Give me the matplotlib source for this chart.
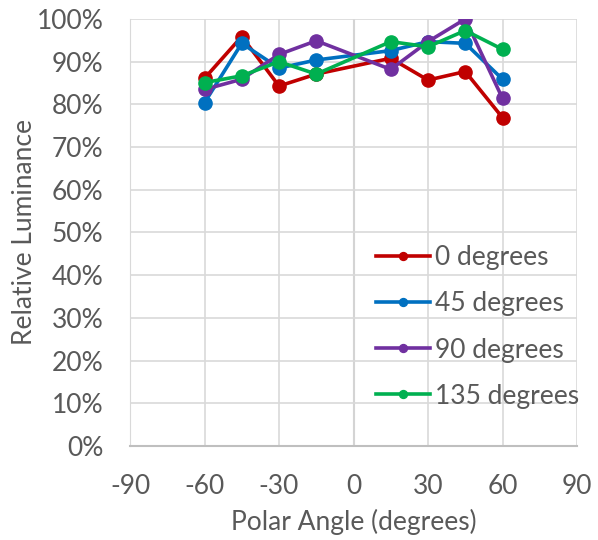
import matplotlib.pyplot as plt
from matplotlib.ticker import PercentFormatter

plt.rcParams['font.family'] = ['Lato', 'DejaVu Sans']
plt.rcParams['axes.unicode_minus'] = False

# polar angle in degrees (no measurement at 0)
angles = [-60, -45, -30, -15, 15, 30, 45, 60]

# relative luminance (%) per polarisation angle
lum_0 = [86.1, 95.9, 84.3, 87.1, 90.8, 85.7, 87.7, 76.9]
lum_45 = [80.4, 94.3, 88.5, 90.4, 92.6, 94.7, 94.3, 85.9]
lum_90 = [83.5, 85.9, 91.7, 94.9, 88.2, 94.7, 100.0, 81.4]
lum_135 = [85.1, 86.7, 90.0, 87.1, 94.7, 93.5, 97.3, 92.9]

series = [
    ("0 degrees", lum_0, "#C00000"),
    ("45 degrees", lum_45, "#0070C0"),
    ("90 degrees", lum_90, "#7030A0"),
    ("135 degrees", lum_135, "#00B050"),
]

xticks = [-90, -60, -30, 0, 30, 60, 90]
yticks = list(range(0, 101, 10))

txt = "#595959"
fs = 19

fig = plt.figure(figsize=(5.98, 5.4), dpi=100)
ax = fig.add_axes([0.2174, 0.1741, 0.7475, 0.7907])

for name, vals, col in series:
    ax.plot(angles, vals, color=col, lw=2.6, marker="o", ms=9.5, label=name,
            solid_joinstyle="round", zorder=3)

ax.set_xlim(-90, 90)
ax.set_ylim(0, 100)
ax.set_xticks(xticks)
ax.set_yticks(yticks)
ax.yaxis.set_major_formatter(PercentFormatter(decimals=0))
ax.grid(True, color="#d9d9d9", lw=1.2, zorder=0)
ax.axvline(0, color="#bfbfbf", lw=1.5, zorder=1)

for s in ["top", "right"]:
    ax.spines[s].set_visible(False)
ax.spines["left"].set_color("#d9d9d9")
ax.spines["bottom"].set_color("#bfbfbf")
ax.spines["bottom"].set_linewidth(1.5)
ax.tick_params(length=0, labelsize=fs, labelcolor=txt)
ax.tick_params(axis="y", pad=19)
ax.tick_params(axis="x", pad=20)

ax.set_xlabel("Polar Angle (degrees)", fontsize=fs, color=txt, labelpad=7)
ax.set_ylabel("Relative Luminance", fontsize=fs, color=txt, labelpad=0)

ax.legend(loc="upper left", bbox_to_anchor=(0.55, 0.47), frameon=False,
          fontsize=fs, labelcolor=txt, markerscale=0.6,
          handlelength=2.05, handletextpad=0.2, labelspacing=0.8,
          borderaxespad=0, borderpad=0)

fig.savefig("out.png", dpi=100)
